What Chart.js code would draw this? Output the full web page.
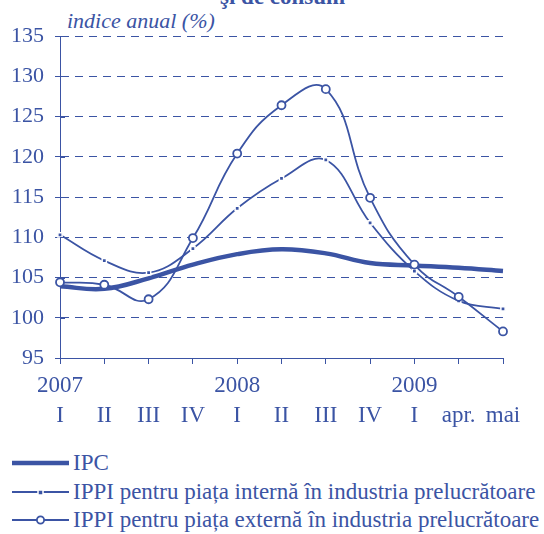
<!DOCTYPE html>
<html>
<head>
<meta charset="utf-8">
<script src="https://cdn.jsdelivr.net/npm/chart.js@4.4.1/dist/chart.umd.min.js"></script>
<style>
  html, body { margin: 0; padding: 0; background: #fff; }
  body { width: 544px; height: 534px; position: relative; overflow: hidden; color: #3b54a4; }
  .serif { font-family: "Liberation Serif", "Times New Roman", "DejaVu Serif", serif; }
  #wrap { position: absolute; left: 0; top: 0; width: 544px; height: 440px; }
  .title { position: absolute; left: 220px; top: -16px; font-size: 23px; font-weight: bold; white-space: nowrap; }
  .unit { position: absolute; left: 67px; top: 8px; font-size: 22px; font-style: italic; white-space: nowrap; }
  .legend { position: absolute; left: 12px; top: 449px; font-size: 23px; line-height: 28.5px; }
  .legend div { display: flex; align-items: center; white-space: nowrap; }
  .legend svg { width: 58px; height: 14px; margin-right: 3px; flex: none; }
</style>
</head>
<body>
<div class="title serif">şi de consum</div>
<div class="unit serif">indice anual (%)</div>
<div id="wrap"><canvas id="ipcChart"></canvas></div>
<div class="legend serif">
  <div><svg viewBox="0 0 58 14"><line x1="0" y1="7" x2="57" y2="7" stroke="#3b54a4" stroke-width="4.5"/></svg>IPC</div>
  <div><svg viewBox="0 0 58 14"><line x1="0" y1="7" x2="57" y2="7" stroke="#3b54a4" stroke-width="1.8"/><rect x="26" y="5" width="5" height="5" fill="#3b54a4" stroke="#fff" stroke-width="1.5"/></svg>IPPI pentru piața internă în industria prelucrătoare</div>
  <div><svg viewBox="0 0 58 14"><line x1="0" y1="7" x2="57" y2="7" stroke="#3b54a4" stroke-width="1.8"/><circle cx="28.5" cy="7" r="3.6" fill="#fff" stroke="#3b54a4" stroke-width="1.8"/></svg>IPPI pentru piața externă în industria prelucrătoare</div>
</div>
<script>
const years = ['2007', '', '', '', '2008', '', '', '', '2009', '', ''];
const periods = ['I', 'II', 'III', 'IV', 'I', 'II', 'III', 'IV', 'I', 'apr.', 'mai'];
const ipc = [103.9, 103.6, 104.9, 106.6, 107.9, 108.5, 108.0, 106.8, 106.5, 106.2, 105.8];
const ippiIntern = [110.3, 107.1, 105.6, 108.6, 113.6, 117.3, 119.6, 111.8, 105.8, 102.1, 101.1];
const ippiExtern = [104.4, 104.1, 102.3, 109.9, 120.4, 126.4, 128.4, 114.9, 106.6, 102.6, 98.3];
const yTicks = [95, 100, 105, 110, 115, 120, 125, 130, 135];

const blue = '#3b54a4';
const serif = '"Liberation Serif", "Times New Roman", serif';

// inner half of the crossing tick marks on the y axis
const crossTicks = {
  id: 'crossTicks',
  afterDraw(chart) {
    const y = chart.scales.y, ctx = chart.ctx;
    ctx.save();
    ctx.strokeStyle = blue;
    ctx.lineWidth = 1;
    yTicks.forEach(v => {
      const py = Math.round(y.getPixelForValue(v)) + 0.5;
      ctx.beginPath();
      ctx.moveTo(y.right, py);
      ctx.lineTo(y.right + 5, py);
      ctx.stroke();
    });
    ctx.restore();
  }
};

const ctx = document.getElementById('ipcChart').getContext('2d');
new Chart(ctx, {
  type: 'line',
  data: {
    labels: periods.map((p, i) => [years[i], p]),
    datasets: [
      {
        label: 'IPC',
        data: ipc,
        borderColor: blue,
        borderWidth: 4.5,
        pointRadius: 0,
        tension: 0.4,
        order: 3
      },
      {
        label: 'IPPI pentru piața internă în industria prelucrătoare',
        data: ippiIntern,
        borderColor: blue,
        borderWidth: 1.8,
        pointStyle: 'rect',
        pointRadius: 3,
        pointBackgroundColor: blue,
        pointBorderColor: '#fff',
        pointBorderWidth: 1.5,
        tension: 0.4,
        order: 2
      },
      {
        label: 'IPPI pentru piața externă în industria prelucrătoare',
        data: ippiExtern,
        borderColor: blue,
        borderWidth: 1.8,
        pointStyle: 'circle',
        pointRadius: 4,
        pointBackgroundColor: '#fff',
        pointBorderColor: blue,
        pointBorderWidth: 1.8,
        tension: 0.45,
        order: 1
      }
    ]
  },
  options: {
    responsive: true,
    maintainAspectRatio: false,
    animation: false,
    layout: { padding: { top: 36, right: 41, left: 0, bottom: 0 } },
    plugins: {
      legend: { display: false },
      tooltip: { enabled: false }
    },
    scales: {
      x: {
        offset: false,
        grid: { drawOnChartArea: false, drawTicks: true, tickLength: 6, color: blue, tickColor: blue },
        border: { color: blue, width: 1 },
        ticks: {
          color: blue,
          font: { family: serif, size: 23, lineHeight: 1.3 },
          padding: 7,
          maxRotation: 0,
          autoSkip: false
        },
        afterFit(scale) { scale.height = 82; }
      },
      y: {
        min: 95,
        max: 135,
        afterBuildTicks(scale) { scale.ticks = yTicks.map(v => ({ value: v })); },
        grid: { color: blue, lineWidth: 1, tickLength: 5, tickColor: blue, tickBorderDash: [] },
        border: { color: blue, width: 1, dash: [8, 6] },
        ticks: {
          color: blue,
          font: { family: serif, size: 22 },
          padding: 11
        },
        afterFit(scale) { scale.width = 60; }
      }
    }
  },
  plugins: [crossTicks]
});
</script>
</body>
</html>
